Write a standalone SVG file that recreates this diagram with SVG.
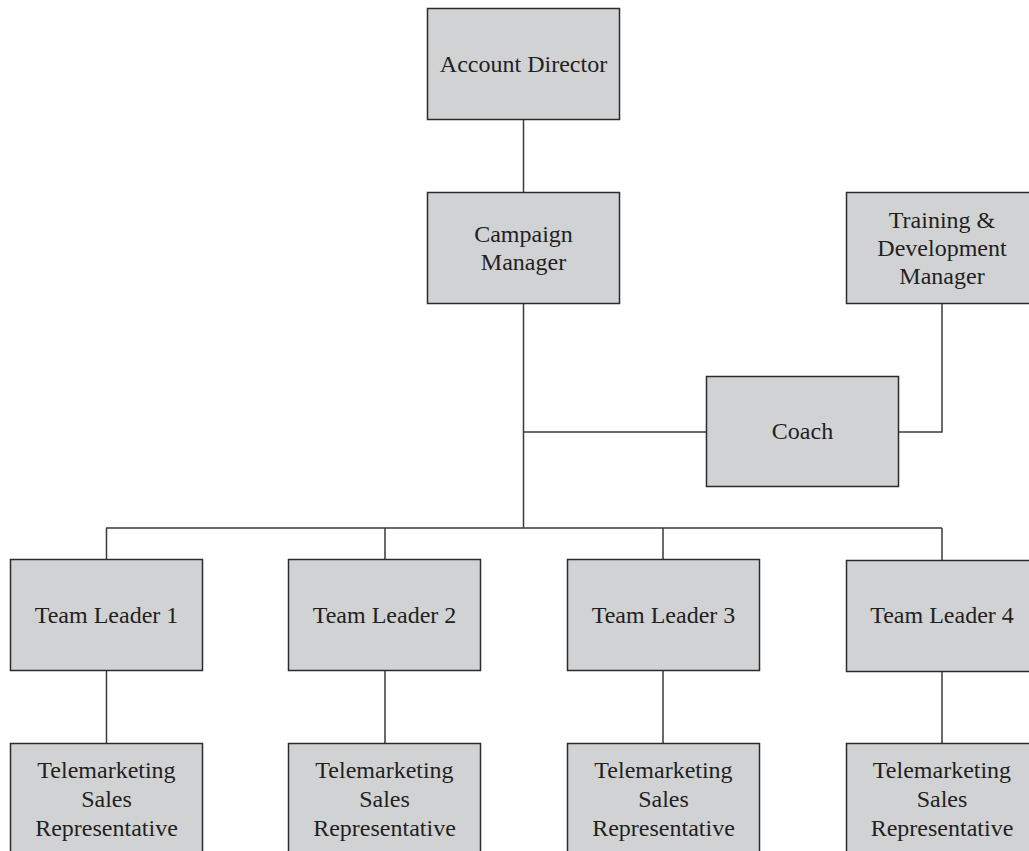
<svg xmlns="http://www.w3.org/2000/svg" width="1029" height="851" viewBox="0 0 1029 851">
  <style>
    .box { fill: #d1d2d4; stroke: #2b2b2b; stroke-width: 1.5; }
    .lbl { font-family: "Liberation Serif", "Times New Roman", serif; font-size: 24px; fill: #231f20; text-anchor: middle; }
    .wire { fill: none; stroke: #3a3a3a; stroke-width: 1.5; }
  </style>
  <rect width="1029" height="851" fill="#ffffff"/>

  <!-- reporting lines -->
  <g id="connectors">
    <line class="wire" x1="523.5" y1="120" x2="523.5" y2="192"/>
    <line class="wire" x1="523.5" y1="304" x2="523.5" y2="528"/>
    <line class="wire" x1="523.5" y1="432" x2="706" y2="432"/>
    <polyline class="wire" points="899,432 942,432 942,304"/>
    <line class="wire" x1="106" y1="528" x2="942" y2="528"/>
    <line class="wire" x1="106.5" y1="528" x2="106.5" y2="559"/>
    <line class="wire" x1="385" y1="528" x2="385" y2="559"/>
    <line class="wire" x1="663" y1="528" x2="663" y2="559"/>
    <line class="wire" x1="942" y1="528" x2="942" y2="560"/>
    <line class="wire" x1="106.5" y1="671" x2="106.5" y2="743"/>
    <line class="wire" x1="385" y1="671" x2="385" y2="743"/>
    <line class="wire" x1="663" y1="671" x2="663" y2="743"/>
    <line class="wire" x1="942" y1="672" x2="942" y2="743"/>
  </g>

  <g id="account-director">
    <rect class="box" x="427.5" y="8.5" width="192" height="111"/>
    <text class="lbl" x="523.5" y="72">Account Director</text>
  </g>

  <g id="campaign-manager">
    <rect class="box" x="427.5" y="192.5" width="192" height="111"/>
    <text class="lbl" x="523.5" y="242">Campaign</text>
    <text class="lbl" x="523.5" y="270">Manager</text>
  </g>

  <g id="training-manager">
    <rect class="box" x="846.5" y="192.5" width="192" height="111"/>
    <text class="lbl" x="942" y="228">Training &amp;</text>
    <text class="lbl" x="942" y="256">Development</text>
    <text class="lbl" x="942" y="284">Manager</text>
  </g>

  <g id="coach">
    <rect class="box" x="706.5" y="376.5" width="192" height="110"/>
    <text class="lbl" x="802.5" y="439">Coach</text>
  </g>

  <g id="team-leader-1">
    <rect class="box" x="10.5" y="559.5" width="192" height="111"/>
    <text class="lbl" x="106.5" y="623">Team Leader 1</text>
  </g>
  <g id="team-leader-2">
    <rect class="box" x="288.5" y="559.5" width="192" height="111"/>
    <text class="lbl" x="384.5" y="623">Team Leader 2</text>
  </g>
  <g id="team-leader-3">
    <rect class="box" x="567.5" y="559.5" width="192" height="111"/>
    <text class="lbl" x="663.5" y="623">Team Leader 3</text>
  </g>
  <g id="team-leader-4">
    <rect class="box" x="846.5" y="560.5" width="192" height="111"/>
    <text class="lbl" x="942" y="623">Team Leader 4</text>
  </g>

  <g id="sales-rep-1">
    <rect class="box" x="10.5" y="743.5" width="192" height="130"/>
    <text class="lbl" x="106.5" y="778">Telemarketing</text>
    <text class="lbl" x="106.5" y="807">Sales</text>
    <text class="lbl" x="106.5" y="836">Representative</text>
  </g>
  <g id="sales-rep-2">
    <rect class="box" x="288.5" y="743.5" width="192" height="130"/>
    <text class="lbl" x="384.5" y="778">Telemarketing</text>
    <text class="lbl" x="384.5" y="807">Sales</text>
    <text class="lbl" x="384.5" y="836">Representative</text>
  </g>
  <g id="sales-rep-3">
    <rect class="box" x="567.5" y="743.5" width="192" height="130"/>
    <text class="lbl" x="663.5" y="778">Telemarketing</text>
    <text class="lbl" x="663.5" y="807">Sales</text>
    <text class="lbl" x="663.5" y="836">Representative</text>
  </g>
  <g id="sales-rep-4">
    <rect class="box" x="846.5" y="743.5" width="192" height="130"/>
    <text class="lbl" x="942" y="778">Telemarketing</text>
    <text class="lbl" x="942" y="807">Sales</text>
    <text class="lbl" x="942" y="836">Representative</text>
  </g>
</svg>
